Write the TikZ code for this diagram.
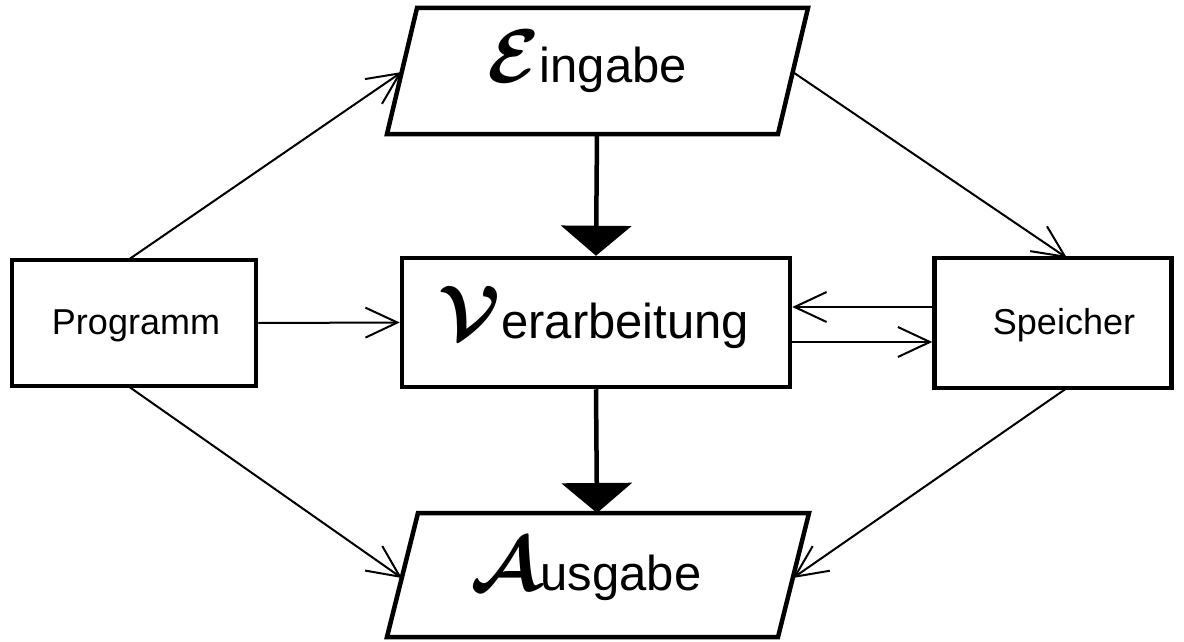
\documentclass[tikz,border=0pt]{standalone}
\usepackage{amsmath}
\usepackage{fontspec}
\setmainfont{Liberation Sans}
\usetikzlibrary{arrows.meta,calc}
\newcommand{\bigini}[1]{\scalebox{7.6}{\normalsize$\boldsymbol{\mathcal{#1}}$}}
\begin{document}
\begin{tikzpicture}[x=1pt,y=-1pt,
  box/.style={draw, line width=4.5pt, inner sep=0pt, line join=miter},
  para/.style={draw, line width=4.5pt, line join=miter},
  biglabel/.style={font=\fontsize{49}{49}\selectfont, anchor=base, inner sep=0pt},
  smalllabel/.style={font=\fontsize{36}{36}\selectfont, anchor=base, inner sep=0pt},
  thinarrow/.style={line width=2pt, -{Straight Barb[length=32pt,width=30pt,line width=2pt]}},
  thickarrow/.style={line width=4.5pt, -{Triangle[length=30pt,width=70pt]}}
]
\useasboundingbox (0,0) rectangle (1184,642);

% rectangles
\node[box, minimum width=244pt, minimum height=126pt] (prog) at (134,323) {};
\node[box, minimum width=388pt, minimum height=129pt] (verarb) at (596,322.5) {};
\node[box, minimum width=237pt, minimum height=130pt] (spei) at (1053,323) {};

% parallelograms
\coordinate (e1) at (417,8);
\coordinate (e2) at (808,8);
\coordinate (e3) at (778,134);
\coordinate (e4) at (387,134);
\draw[para] (e1) -- (e2) -- (e3) -- (e4) -- cycle;
\coordinate (a1) at (418,513);
\coordinate (a2) at (809,513);
\coordinate (a3) at (778,637);
\coordinate (a4) at (387,637);
\draw[para] (a1) -- (a2) -- (a3) -- (a4) -- cycle;

% labels
\node[biglabel] (tE) at (587,83) {\bigini{E}ingabe};
\node[biglabel] (tV) at (594,338) {\bigini{V}erarbeitung};
\node[biglabel] (tA) at (586,590) {\bigini{A}usgabe};
\node[smalllabel] (tP) at (136,334) {Programm};
\node[smalllabel] (tS) at (1064,334) {Speicher};

% connector end points
\coordinate (eL) at (401.8,72);
\coordinate (eR) at (792.8,72);
\coordinate (eB) at (597,134);
\coordinate (aL) at (401.8,578);
\coordinate (aR) at (793,578);
\coordinate (aT) at (597,513);
\coordinate (pT) at (128,260);
\coordinate (pB) at (128,386);
\coordinate (sT) at (1067,258);
\coordinate (sB) at (1067,388);

% thick arrows
\draw[thickarrow] (eB) -- (verarb.north);
\draw[thickarrow] (verarb.south) -- (aT);

% thin arrows
\draw[thinarrow] (pT) -- (eL);
\draw[thinarrow] (prog.east) -- (verarb.west);
\draw[thinarrow] (pB) -- (aL);
\draw[thinarrow] (eR) -- (sT);
\draw[thinarrow] (sB) -- (aR);
\draw[thinarrow] (spei.west |- 0,307) -- (verarb.east |- 0,307);
\draw[thinarrow] (verarb.east |- 0,342) -- (spei.west |- 0,342);
\end{tikzpicture}
\end{document}
